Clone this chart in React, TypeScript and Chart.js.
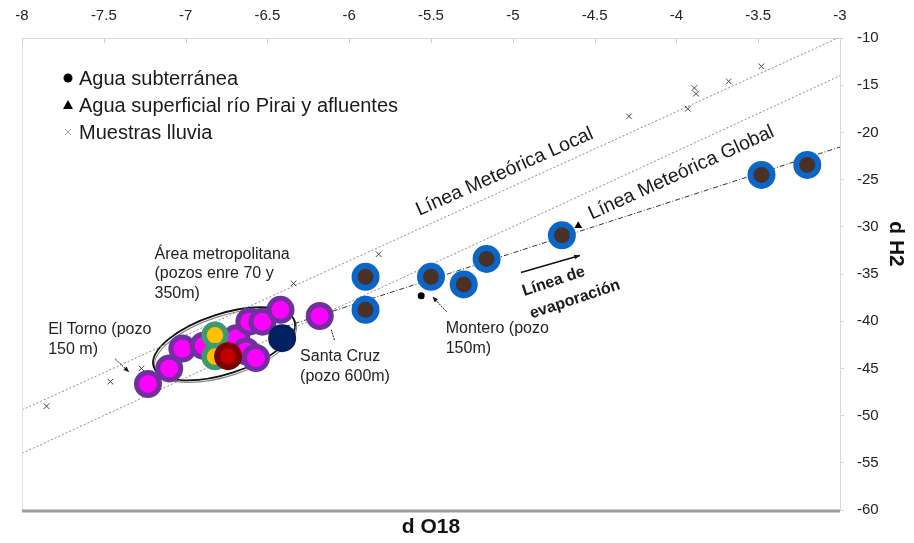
import React, { useEffect, useRef } from "react";
import { Chart, registerables } from "chart.js";

Chart.register(...registerables);

const FONT = "'Liberation Sans', Arial, sans-serif";

// Axis ticks (‰)
const xTickValues = [-8, -7.5, -7, -6.5, -6, -5.5, -5, -4.5, -4, -3.5, -3];
const yTickValues = [-60, -55, -50, -45, -40, -35, -30, -25, -20, -15, -10];

// Rain samples
const rainO18 = [-7.85, -7.46, -7.27, -6.34, -5.82, -4.29, -3.93, -3.89, -3.88, -3.68, -3.48];
const rainH2 = [-49.0, -46.4, -45.0, -36.0, -32.9, -18.3, -17.5, -15.3, -15.9, -14.6, -13.0];

// Groundwater (Montero) and surface water
const groundO18 = [-5.56];
const groundH2 = [-37.3];
const surfaceO18 = [-4.6];
const surfaceH2 = [-29.9];

// Evaporated wells (blue)
const evapO18 = [-5.9, -5.9, -5.5, -5.3, -5.16, -4.7, -3.48, -3.2];
const evapH2 = [-35.3, -38.8, -35.3, -36.1, -33.4, -30.9, -24.5, -23.45];

// Metropolitan wells (magenta)
const metroO18 = [-7.23, -7.1, -7.02, -6.89, -6.69, -6.63, -6.57, -6.61, -6.53, -6.42, -6.18];
const metroH2 = [-46.65, -45.0, -42.9, -42.6, -41.8, -43.2, -43.9, -40.05, -40.05, -38.8, -39.45];

// Other wells
const yellowO18 = [-6.82, -6.82];
const yellowH2 = [-41.5, -43.75];
const redO18 = [-6.74];
const redH2 = [-43.7];
const navyO18 = [-6.41];
const navyH2 = [-41.8];

// Meteoric water lines and evaporation line
const localLineO18 = [-8, -3];
const localLineH2 = [-49.4, -9.9];
const globalLineO18 = [-8, -3];
const globalLineH2 = [-54, -14];
const evapLineO18 = [-6.45, -3];
const evapLineH2 = [-40.9, -21.55];

const legendLabels = [
  "Agua subterránea",
  "Agua superficial río Pirai y afluentes",
  "Muestras lluvia",
];

const pts = (xs: number[], ys: number[]) => xs.map((x, i) => ({ x, y: ys[i] }));

type Note = { lines: string[]; o18: number; h2: number };
const notes: Note[] = [
  { lines: ["Área metropolitana", "(pozos enre 70 y", "350m)"], o18: -7.19, h2: -32.9 },
  { lines: ["El Torno (pozo", "150 m)"], o18: -7.84, h2: -40.93 },
  { lines: ["Santa Cruz", "(pozo 600m)"], o18: -6.3, h2: -43.8 },
  { lines: ["Montero (pozo", "150m)"], o18: -5.41, h2: -40.8 },
];

function App() {
  const ref = useRef<HTMLCanvasElement | null>(null);

  useEffect(() => {
    const canvas = ref.current;
    if (!canvas) return;

    const overlay = {
      id: "overlay",
      beforeDatasetsDraw(chart: any) {
        const { ctx } = chart;
        const sx = chart.scales.x;
        const sy = chart.scales.y;
        // ellipse around the metropolitan wells
        const cx = sx.getPixelForValue(-6.765);
        const cy = sy.getPixelForValue(-42.4);
        ctx.save();
        ctx.lineWidth = 1.2;
        ctx.strokeStyle = "#888";
        ctx.beginPath();
        ctx.ellipse(cx + 1.5, cy + 2, 74, 30, (-18 * Math.PI) / 180, 0, Math.PI * 2);
        ctx.stroke();
        ctx.lineWidth = 1.8;
        ctx.strokeStyle = "#111";
        ctx.beginPath();
        ctx.ellipse(cx, cy, 74, 30, (-18 * Math.PI) / 180, 0, Math.PI * 2);
        ctx.stroke();
        ctx.restore();
      },
      afterDraw(chart: any) {
        const { ctx, chartArea: a } = chart;
        const sx = chart.scales.x;
        const sy = chart.scales.y;
        const X = (v: number) => sx.getPixelForValue(v);
        const Y = (v: number) => sy.getPixelForValue(v);
        ctx.save();

        // frame
        ctx.strokeStyle = "#e3e3e3";
        ctx.lineWidth = 1;
        ctx.beginPath();
        ctx.moveTo(a.left + 0.5, a.top);
        ctx.lineTo(a.left + 0.5, a.bottom);
        ctx.stroke();
        ctx.strokeStyle = "#d0d0d0";
        xTickValues.forEach((v) => {
          const x = Math.round(X(v)) + 0.5;
          ctx.beginPath();
          ctx.moveTo(x, a.top);
          ctx.lineTo(x, a.top + 5);
          ctx.stroke();
        });
        ctx.strokeStyle = "#9a9a9a";
        ctx.lineWidth = 3;
        ctx.beginPath();
        ctx.moveTo(a.left, a.bottom + 1);
        ctx.lineTo(a.right, a.bottom + 1);
        ctx.stroke();

        // axis titles
        ctx.fillStyle = "#111";
        ctx.font = `bold 21px ${FONT}`;
        ctx.textAlign = "center";
        ctx.textBaseline = "middle";
        ctx.fillText("d O18", (a.left + a.right) / 2, 527);
        ctx.save();
        ctx.translate(896, (a.top + a.bottom) / 2 - 30);
        ctx.rotate(Math.PI / 2);
        ctx.fillText("d H2", 0, 0);
        ctx.restore();

        // legend
        const lx = a.left + 46;
        const ly = [78, 105, 132];
        ctx.fillStyle = "#000";
        ctx.beginPath();
        ctx.arc(lx, ly[0], 4.5, 0, Math.PI * 2);
        ctx.fill();
        ctx.beginPath();
        ctx.moveTo(lx, ly[1] - 5);
        ctx.lineTo(lx + 5, ly[1] + 4);
        ctx.lineTo(lx - 5, ly[1] + 4);
        ctx.closePath();
        ctx.fill();
        ctx.strokeStyle = "#a0a0a0";
        ctx.lineWidth = 1;
        ctx.beginPath();
        ctx.moveTo(lx - 3, ly[2] - 3);
        ctx.lineTo(lx + 3, ly[2] + 3);
        ctx.moveTo(lx + 3, ly[2] - 3);
        ctx.lineTo(lx - 3, ly[2] + 3);
        ctx.stroke();
        ctx.font = `20px ${FONT}`;
        ctx.fillStyle = "#1a1a1a";
        ctx.textAlign = "left";
        legendLabels.forEach((t, i) => ctx.fillText(t, lx + 11, ly[i] + 1));

        // notes
        ctx.font = `16px ${FONT}`;
        ctx.fillStyle = "#222";
        notes.forEach((n) => {
          n.lines.forEach((t, i) => ctx.fillText(t, X(n.o18), Y(n.h2) + i * 19.5));
        });

        // rotated line labels
        const rot = (t: string, o18: number, h2: number, deg: number, font: string) => {
          ctx.save();
          ctx.translate(X(o18), Y(h2));
          ctx.rotate((deg * Math.PI) / 180);
          ctx.font = font;
          ctx.textAlign = "center";
          ctx.textBaseline = "middle";
          ctx.fillStyle = "#1a1a1a";
          ctx.fillText(t, 0, 0);
          ctx.restore();
        };
        rot("Línea Meteórica Local", -5.05, -24.2, -24, `19.5px ${FONT}`);
        rot("Línea Meteórica Global", -3.97, -24.3, -24.5, `19.5px ${FONT}`);
        rot("Línea de", -4.75, -35.8, -18.5, `bold 16px ${FONT}`);
        rot("evaporación", -4.62, -37.7, -18.5, `bold 16px ${FONT}`);

        // arrows
        const arrow = (x0: number, y0: number, x1: number, y1: number, w: number, dash: number[], head: number) => {
          const p0 = [X(x0), Y(y0)];
          const p1 = [X(x1), Y(y1)];
          ctx.strokeStyle = "#111";
          ctx.fillStyle = "#111";
          ctx.lineWidth = w;
          ctx.setLineDash(dash);
          ctx.beginPath();
          ctx.moveTo(p0[0], p0[1]);
          ctx.lineTo(p1[0], p1[1]);
          ctx.stroke();
          ctx.setLineDash([]);
          if (head > 0) {
            const ang = Math.atan2(p1[1] - p0[1], p1[0] - p0[0]);
            ctx.beginPath();
            ctx.moveTo(p1[0], p1[1]);
            ctx.lineTo(p1[0] - head * Math.cos(ang - 0.4), p1[1] - head * Math.sin(ang - 0.4));
            ctx.lineTo(p1[0] - head * Math.cos(ang + 0.4), p1[1] - head * Math.sin(ang + 0.4));
            ctx.closePath();
            ctx.fill();
          }
        };
        arrow(-4.95, -34.84, -4.59, -33.03, 1.6, [], 6);
        arrow(-7.43, -44.0, -7.346, -45.38, 1, [2, 1], 6);
        arrow(-5.405, -39.0, -5.49, -37.4, 1, [2, 1], 6);
        arrow(-6.09, -42.0, -6.11, -40.9, 1, [2, 1], 0);

        ctx.restore();
      },
    };

    const lineDs = (label: string, xs: number[], ys: number[], color: string, dash: number[], order: number) => ({
      label,
      data: pts(xs, ys),
      showLine: true,
      borderColor: color,
      borderWidth: 1,
      borderDash: dash,
      pointRadius: 0,
      fill: false,
      order,
    });

    const chart = new Chart(canvas, {
      type: "scatter",
      data: {
        datasets: [
          lineDs("Línea Meteórica Local", localLineO18, localLineH2, "#8a8a8a", [2, 2], 20),
          lineDs("Línea Meteórica Global", globalLineO18, globalLineH2, "#8a8a8a", [2, 2], 19),
          lineDs("Línea de evaporación", evapLineO18, evapLineH2, "#333", [5, 2, 1, 2], 18),
          {
            label: "Muestras lluvia",
            data: pts(rainO18, rainH2),
            pointStyle: "crossRot",
            pointRadius: 4,
            borderColor: "#444",
            borderWidth: 1,
            order: 17,
          },
          {
            label: "Pozos evaporados",
            data: pts(evapO18, evapH2),
            pointRadius: 11,
            backgroundColor: "#4a3128",
            borderColor: "#0a66c8",
            borderWidth: 6,
            order: 16,
          },
          {
            label: "Área metropolitana",
            data: pts(metroO18, metroH2),
            pointRadius: 11.5,
            backgroundColor: "#ff00ff",
            borderColor: "#7030a0",
            borderWidth: 5,
            order: 15,
          },
          {
            label: "Pozos amarillos",
            data: pts(yellowO18, yellowH2),
            pointRadius: 11,
            backgroundColor: "#ffc000",
            borderColor: "#3d9970",
            borderWidth: 5.5,
            order: 14,
          },
          {
            label: "Santa Cruz",
            data: pts(navyO18, navyH2),
            pointRadius: 14,
            backgroundColor: "#002060",
            borderWidth: 0,
            order: 13,
          },
          {
            label: "Pozo rojo",
            data: pts(redO18, redH2),
            pointRadius: 11,
            backgroundColor: "#c00000",
            borderColor: "#7f0000",
            borderWidth: 6,
            order: 12,
          },
          {
            label: "Agua subterránea",
            data: pts(groundO18, groundH2),
            pointRadius: 3.5,
            backgroundColor: "#000",
            borderWidth: 0,
            order: 11,
          },
          {
            label: "Agua superficial río Pirai y afluentes",
            data: pts(surfaceO18, surfaceH2),
            pointStyle: "triangle",
            pointRadius: 4.5,
            backgroundColor: "#000",
            borderWidth: 0,
            order: 10,
          },
        ],
      },
      options: {
        responsive: false,
        animation: false,
        events: [],
        layout: { padding: { left: 22, right: 0, top: 0, bottom: 33 } },
        plugins: { legend: { display: false }, tooltip: { enabled: false } },
        scales: {
          x: {
            type: "linear",
            position: "top",
            min: -8,
            max: -3,
            afterBuildTicks: (s: any) => {
              s.ticks = xTickValues.map((value) => ({ value }));
            },
            afterFit: (s: any) => {
              s.height = 38;
            },
            ticks: {
              autoSkip: false,
              maxRotation: 0,
              padding: 13,
              color: "#222",
              font: { family: FONT, size: 15 },
              callback: (v: any) => String(v),
            },
            grid: { drawOnChartArea: false, drawTicks: false },
            border: { display: true, color: "#d9d9d9" },
          },
          y: {
            type: "linear",
            position: "right",
            min: -60,
            max: -10,
            afterBuildTicks: (s: any) => {
              s.ticks = yTickValues.map((value) => ({ value }));
            },
            afterFit: (s: any) => {
              s.width = 74;
            },
            ticks: {
              autoSkip: false,
              padding: 13,
              color: "#222",
              font: { family: FONT, size: 15 },
              callback: (v: any) => String(v),
            },
            grid: { drawOnChartArea: false, drawTicks: true, tickLength: 4, color: "#d9d9d9" },
            border: { display: true, color: "#d9d9d9" },
          },
        },
      },
      plugins: [overlay],
    } as any);

    return () => chart.destroy();
  }, []);

  return (
    <div style={{ position: "fixed", left: 0, top: 0, width: 914, height: 543, background: "#fff" }}>
      <canvas ref={ref} width={914} height={543} style={{ display: "block" }} />
    </div>
  );
}

export default App;
